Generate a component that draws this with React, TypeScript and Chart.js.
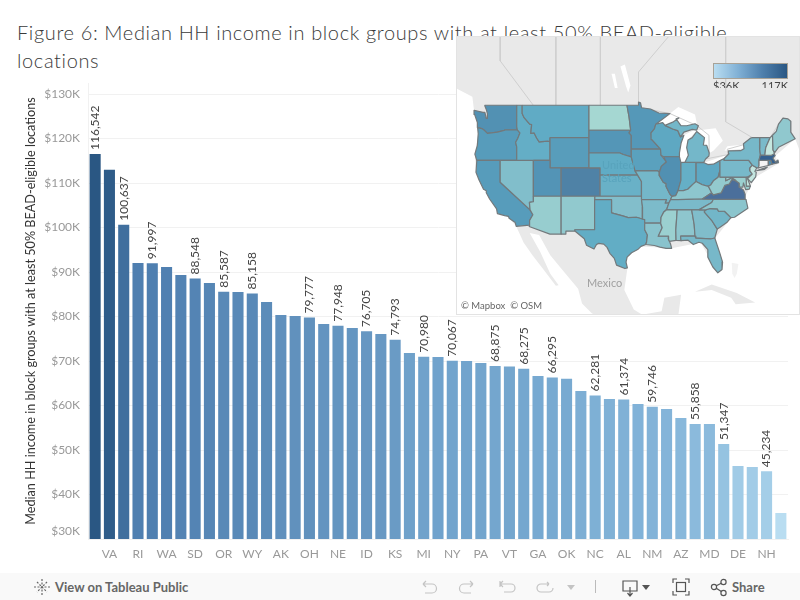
import React, { useEffect, useRef } from "react";
import { Chart, registerables } from "chart.js";

Chart.register(...registerables);

const TITLE_LINES = ["Figure 6: Median HH income in block groups with at least 50% BEAD-eligible", "locations"];
const Y_TITLE = "Median HH income in block groups with at least 50% BEAD-eligible locations";

const states = ["MA","VA","CO","RI","IL","WA","UT","SD","MN","OR","CA","WY","IA","AK","WI","OH","MT","NE","TX","ID","IN","KS","SC","MI","MO","NY","FL","PA","TN","VT","AR","GA","NV","OK","LA","NC","KY","AL","ME","NM","WV","AZ","MS","MD","ND","DE","NJ","NH","DC"];
const income = [116542,113000,100637,92050,91997,91120,89330,88548,87530,85587,85500,85158,83250,80340,80110,79777,78300,77948,77420,76705,76070,74793,71800,70980,70900,70067,70000,69550,68875,68800,68275,66630,66295,66000,63260,62281,61460,61374,60340,59746,59200,57190,55858,55840,51347,46400,46180,45234,35840];
const xLabelled = ["VA","RI","WA","SD","OR","WY","AK","OH","NE","ID","KS","MI","NY","PA","VT","GA","OK","NC","AL","NM","AZ","MD","DE","NH"];
const valueLabelled = [116542,100637,91997,88548,85587,85158,79777,77948,76705,74793,70980,70067,68875,68275,66295,62281,61374,59746,55858,51347,45234];
const yTicks = [30000,40000,50000,60000,70000,80000,90000,100000,110000,120000,130000];

const barStops: [number, string][] = [[35840,"#b9ddf1"],[45000,"#a5cee8"],[50000,"#98c5e2"],[60000,"#82b3d8"],[70000,"#72a4cd"],[80000,"#6191bd"],[92000,"#4f7fb0"],[100000,"#41709f"],[116542,"#2a5783"]];
const mapStops: [number, string][] = [[35840,"#d8efe8"],[46000,"#c4e6df"],[51000,"#a6d8d2"],[65000,"#85c0cc"],[78000,"#60acc5"],[90000,"#5293b5"],[100637,"#4f82a6"],[113000,"#4b6f9b"],[116542,"#35608f"]];

const W_NA = [-128,70,-128,51,-125,50,-124.7,48.4,-124.1,46.9,-124.05,46.27,-123.95,45.5,-124.55,42.84,-124.35,40.4,-122.5,37.6,-120.6,35.1,-118.4,33.75,-117.12,32.53,-115.8,30,-114.2,28,-112.5,26,-110,23,-109.5,23.1,-111,25,-112.8,28.5,-114.7,31.5,-113,31.2,-111,28,-109,25.8,-106,22.5,-105.3,20,-103.5,18.3,-95,15,-90,15,-88,18,-87.5,21.5,-90.5,21,-91,18.7,-94.5,18.1,-96,19,-97.7,22.3,-97.15,25.9,-97.2,27.7,-94.7,29.4,-89.2,29.1,-84,30,-82.7,28,-80.9,25.15,-80,26.9,-81.4,30.7,-78.5,33.8,-75.5,35.25,-76,37,-74.1,39.75,-70,41.6,-70.6,42.6,-67,44.85,-66.3,43.5,-60,46,-60,70];
const CUBA = [-85,22,-82,23.2,-77.5,21.8,-74.2,20.2,-77.7,19.9,-78.5,21,-82,22.3];
const BAHAMAS = [-78.4,26.8,-77.2,26.6,-77.5,25,-77.9,24.3,-78.3,25];
const lakes = [
  [-92,46.7,-89.5,48,-88,48.8,-85,47.9,-84.6,46.5,-86.5,46.5,-90.4,46.6],
  [-87.8,42,-87.6,45.1,-85,46,-84.8,45.8,-86.3,44.7,-86.2,42.5,-87,41.6],
  [-84.7,45.9,-81.3,46.2,-80,44.6,-81.7,43.3,-82.4,43,-83.5,44,-83.3,45],
  [-83.4,41.7,-79,42.8,-79.8,42.3,-81.7,41.5],
  [-79.7,43.3,-76.2,43.6,-76.2,44.1,-79.2,43.9],
  [-97,50.5,-96.6,51.3,-97.6,53.6,-98.4,53.4,-97.4,51.2],
  [-99.4,51,-98.9,51,-99.4,52.6,-100,52.6],
  [-112,59,-107,58.8,-104,59.4,-108,59.9],
];
const canadaLines = [
  [-120,60,-120,54,-114.05,49],
  [-110,60,-110,49],
  [-102,60,-102,49],
  [-95.15,49.38,-95.15,52.8,-89,57,-88,60],
  [-79.5,60,-79.5,47,-74.7,45],
  [-95.15,49.38,-94.6,48.7,-89.5,48,-84.6,46.5,-82.5,45.3,-82.45,43,-83.1,42.2,-79,42.8,-79.2,43.5,-76.2,44.1,-74.7,45,-71.5,45,-70,46.7,-69.2,47.45,-67.8,47.07,-67.8,45.7],
];

const shapes: Record<string, number[][]> = {
  WA: [[-122.8,49,-117.03,49,-117.04,46.42,-116.92,45.99,-118.98,46,-119.3,45.93,-120.5,45.7,-121.2,45.65,-122.3,45.55,-122.8,45.9,-123.3,46.15,-124.05,46.27,-124.1,46.9,-124.6,47.9,-124.7,48.4,-123.1,48.15,-122.75,48.15,-122.5,47.4,-122.3,47.4,-122.3,48,-122.5,48.5]],
  OR: [[-124.05,46.27,-123.3,46.15,-122.8,45.9,-122.3,45.55,-121.2,45.65,-120.5,45.7,-119.3,45.93,-118.98,46,-116.92,45.99,-116.46,45.6,-116.85,44.9,-117.22,44.4,-117.03,43.8,-117.03,42,-124.2,42,-124.55,42.84,-124.1,44,-123.95,45.5]],
  CA: [[-124.2,42,-120,42,-120,39,-114.63,35,-114.13,34.27,-114.72,33.4,-114.72,32.72,-117.12,32.53,-117.3,33.1,-118.4,33.75,-118.5,34.03,-119.2,34.15,-120.5,34.45,-120.65,35.15,-121.9,36.6,-122.5,37.5,-122.5,37.8,-123,38,-123.8,39.3,-124.35,40.4]],
  NV: [[-120,42,-114.04,42,-114.04,36.2,-114.75,36.1,-114.63,35,-120,39]],
  ID: [[-117.03,49,-116.05,49,-116.05,48,-115.7,47.5,-114.7,46.7,-114.35,46.65,-114.5,45.55,-113.9,45.6,-113.45,44.95,-113,44.45,-111.5,44.55,-111.05,44.48,-111.05,42,-117.03,42,-117.03,43.8,-117.22,44.4,-116.85,44.9,-116.46,45.6,-116.92,45.99,-117.04,46.42]],
  MT: [[-116.05,49,-104.05,49,-104.05,45,-111.05,45,-111.05,44.48,-111.5,44.55,-113,44.45,-113.45,44.95,-113.9,45.6,-114.5,45.55,-114.35,46.65,-114.7,46.7,-115.7,47.5,-116.05,48]],
  WY: [[-111.05,45,-104.05,45,-104.05,41,-111.05,41]],
  UT: [[-114.04,42,-111.05,42,-111.05,41,-109.05,41,-109.05,37,-114.04,37]],
  CO: [[-109.05,41,-102.05,41,-102.05,37,-109.05,37]],
  AZ: [[-114.75,36.1,-114.04,36.2,-114.04,37,-109.05,37,-109.05,31.33,-111.07,31.33,-114.8,32.5,-114.72,32.72,-114.72,33.4,-114.13,34.27,-114.63,35]],
  NM: [[-109.05,37,-103,37,-103,32,-106.62,32,-106.53,31.78,-108.2,31.78,-108.2,31.33,-109.05,31.33]],
  ND: [[-104.05,49,-97.23,49,-96.85,47.6,-96.56,45.94,-104.05,45.94]],
  SD: [[-104.05,45.94,-96.56,45.94,-96.85,45.6,-96.45,45.3,-96.45,43.5,-96.45,42.49,-97.9,42.8,-98.5,43,-104.05,43]],
  NE: [[-104.05,43,-98.5,43,-97.9,42.8,-96.45,42.49,-96.1,41.5,-95.77,40.58,-95.31,40,-102.05,40,-102.05,41,-104.05,41]],
  KS: [[-102.05,40,-95.31,40,-94.62,39.1,-94.62,37,-102.05,37]],
  OK: [[-103,37,-94.62,37,-94.43,35.4,-94.48,33.64,-95.5,33.9,-97,33.85,-98,34.1,-100,34.56,-100,36.5,-103,36.5]],
  TX: [[-106.62,32,-103.06,32,-103.04,36.5,-100,36.5,-100,34.56,-98,34.1,-97,33.85,-95.5,33.9,-94.48,33.64,-94.04,33.55,-94.04,31.99,-93.55,31.2,-93.7,30.1,-93.85,29.7,-94.7,29.4,-95.3,28.9,-96.4,28.4,-97.2,27.7,-97.4,26.9,-97.15,25.96,-97.6,25.85,-99.1,26.4,-99.5,27.5,-100.3,28.3,-100.8,29.25,-101.4,29.77,-102.3,29.88,-102.7,29.7,-103.15,28.98,-104.5,29.6,-104.9,30.6,-106.53,31.78]],
  MN: [[-97.23,49,-95.15,49,-95.15,49.38,-94.8,49.3,-94.6,48.7,-93,48.55,-91.5,48.07,-89.5,48,-92.05,46.7,-92.3,46.1,-92.9,45.6,-92.75,44.75,-91.2,43.5,-96.45,43.5,-96.45,45.3,-96.85,45.6,-96.56,45.94,-96.85,47.6]],
  IA: [[-96.45,43.5,-91.2,43.5,-91.1,42.7,-90.15,41.8,-91.05,41.2,-91.4,40.4,-91.73,40.61,-95.77,40.58,-96.1,41.5,-96.45,42.49]],
  MO: [[-95.77,40.58,-91.73,40.61,-91.4,40.4,-91.45,40,-90.7,39,-90.2,38.8,-90.2,38.4,-89.5,37.3,-89.15,36.98,-89.4,36.5,-89.7,36,-90.37,36,-90.15,36.5,-94.62,36.5,-94.62,39.1,-95.31,40]],
  AR: [[-94.62,36.5,-90.15,36.5,-90.37,36,-89.7,36,-90.1,35.1,-90.6,34.7,-91.1,33.9,-91.17,33,-94.04,33,-94.04,33.55,-94.48,33.64,-94.43,35.4]],
  LA: [[-94.04,33,-91.17,33,-90.9,32.3,-91.6,31,-89.75,31,-89.8,30.6,-89.6,30.2,-89.4,29.8,-89.2,29.1,-90.2,29.1,-91.3,29.3,-92.3,29.55,-93.85,29.7,-93.7,30.1,-93.55,31.2,-94.04,31.99]],
  WI: [[-92.05,46.7,-90.8,46.9,-90.4,46.55,-89,46.1,-88.1,45.9,-87.8,45.35,-87.6,45.1,-87,45.3,-87.5,44.3,-87.8,43,-87.8,42.5,-90.65,42.5,-91.1,42.7,-91.2,43.5,-92.75,44.75,-92.9,45.6,-92.3,46.1]],
  IL: [[-90.65,42.5,-87.8,42.5,-87.53,41.7,-87.53,39.3,-88.05,37.8,-88.45,37.1,-89.15,36.98,-89.5,37.3,-90.2,38.4,-90.2,38.8,-90.7,39,-91.45,40,-91.4,40.4,-91.05,41.2,-90.15,41.8]],
  IN: [[-87.53,41.7,-87.2,41.75,-84.8,41.76,-84.82,39.1,-85.4,38.7,-86.3,38,-87.1,37.8,-88.05,37.8,-87.53,39.3]],
  OH: [[-84.8,41.7,-83.45,41.73,-82.7,41.45,-81.7,41.5,-80.52,41.98,-80.52,40.64,-80.85,39.7,-81.7,39.2,-82.2,38.6,-82.6,38.42,-83.7,38.65,-84.82,39.1]],
  MI: [[-86.8,41.76,-84.8,41.76,-83.45,41.73,-83.1,42.2,-82.5,42.6,-82.45,43,-82.9,44,-83.5,44.05,-83.3,45,-84.7,45.78,-85.5,45,-86.25,44.7,-86.5,43.7,-86.2,42.7],[-90.4,46.55,-89,46.1,-88.1,45.9,-87.6,45.1,-87,45.7,-85.5,46.05,-84.7,45.95,-84.4,46.5,-85,46.75,-86.5,46.5,-87.5,46.5,-88.4,47.35,-87.9,47.47,-89,46.95]],
  KY: [[-89.4,36.5,-88.05,36.5,-83.68,36.6,-82,37.5,-82.6,38.42,-83.7,38.65,-84.82,39.1,-85.4,38.7,-86.3,38,-87.1,37.8,-88.05,37.8,-88.45,37.1,-89.15,36.98]],
  TN: [[-90.1,35,-89.7,36,-89.4,36.5,-88.05,36.5,-83.68,36.6,-81.68,36.59,-82,36.1,-84.3,35]],
  MS: [[-91.17,33,-91.1,33.9,-90.6,34.7,-90.1,35,-88.2,35,-88.45,31.9,-88.4,30.35,-89.6,30.2,-89.8,30.6,-89.75,31,-91.6,31,-90.9,32.3]],
  AL: [[-88.2,35,-85.6,35,-85.15,32.8,-85,31,-87.6,31,-87.5,30.3,-88.4,30.35,-88.45,31.9]],
  GA: [[-85.6,35,-83.1,35,-83.35,34.7,-81.9,33.3,-81,32.1,-81.45,30.72,-82.2,30.57,-84.85,30.7,-85,31,-85.15,32.8]],
  FL: [[-87.6,31,-85,31,-84.85,30.7,-82.2,30.57,-81.45,30.72,-80.6,28.5,-80.05,26.9,-80.15,25.7,-80.9,25.15,-81.8,26.1,-82.7,27.7,-82.7,28.9,-83.7,29.9,-84.3,30.05,-85.3,29.7,-86.3,30.4,-87.5,30.3]],
  SC: [[-83.35,34.7,-83.1,35,-82.3,35.2,-81,35.15,-80.8,34.82,-79.7,34.8,-78.55,33.85,-79.3,33.1,-80.5,32.4,-81,32.1,-81.9,33.3]],
  NC: [[-84.3,35,-82,36.1,-81.68,36.59,-75.85,36.55,-75.5,35.25,-76.5,34.7,-77.9,33.9,-78.55,33.85,-79.7,34.8,-80.8,34.82,-81,35.15,-82.3,35.2,-83.1,35]],
  VA: [[-83.68,36.6,-75.9,36.55,-76,37.3,-76.3,37.9,-77,38.3,-77.05,38.85,-77.5,39.1,-78.35,39.4,-78.85,38.75,-79.65,38.55,-80.3,37.5,-81.7,37.2,-82,37.5]],
  WV: [[-82.6,38.42,-82,37.5,-81.7,37.2,-80.3,37.5,-79.65,38.55,-78.85,38.75,-78.35,39.4,-77.75,39.32,-78.4,39.62,-79.48,39.2,-79.48,39.72,-80.52,39.72,-80.52,40.64,-80.85,39.7,-81.7,39.2,-82.2,38.6]],
  MD: [[-79.48,39.72,-75.79,39.72,-75.7,38.46,-75.05,38.45,-75.25,38.03,-75.9,37.95,-76.3,38.9,-76.4,38.3,-77,38.3,-77.05,38.85,-77.5,39.1,-77.75,39.32,-78.4,39.62,-79.48,39.2]],
  DE: [[-75.79,39.72,-75.4,39.8,-75.55,39.5,-75.05,38.45,-75.7,38.46]],
  PA: [[-80.52,41.98,-79.76,42.27,-79.76,42,-75.35,42,-74.7,41.36,-75.13,40.98,-75.2,40.65,-74.72,40.15,-75.4,39.8,-75.79,39.72,-80.52,39.72]],
  NJ: [[-74.7,41.36,-73.9,41,-74.25,40.5,-74,40.4,-74.1,39.75,-74.9,38.95,-75.55,39.5,-74.72,40.15,-75.2,40.65,-75.13,40.98]],
  NY: [[-79.76,42.27,-78.9,42.9,-79,43.27,-76.8,43.3,-76.2,43.55,-76.3,44.2,-75,44.95,-74.7,45,-73.35,45,-73.4,43.6,-73.25,42.75,-73.5,42.05,-73.5,41.3,-73.65,41,-73.9,41,-74.7,41.36,-75.35,42,-79.76,42],[-74,40.6,-72,41.1,-72.5,40.8]],
  CT: [[-73.5,42.05,-71.8,42.02,-71.85,41.32,-73.65,41,-73.5,41.3]],
  RI: [[-71.8,42.02,-71.38,42.02,-71.15,41.5,-71.85,41.32]],
  MA: [[-73.5,42.05,-73.25,42.75,-71.3,42.7,-70.8,42.87,-70.6,42.65,-71,42.3,-70.55,41.8,-70.1,42.05,-70,41.7,-70.6,41.6,-71.15,41.5,-71.38,42.02]],
  VT: [[-73.35,45,-71.5,45.01,-72.05,44.1,-72.3,43.7,-72.45,42.73,-73.25,42.75,-73.4,43.6]],
  NH: [[-71.5,45.01,-71.08,45.3,-70.98,43.4,-70.7,43.05,-70.8,42.87,-71.3,42.7,-72.45,42.73,-72.3,43.7,-72.05,44.1]],
  ME: [[-71.08,45.3,-70.4,45.8,-70,46.7,-69.2,47.45,-68.3,47.35,-67.8,47.07,-67.8,45.7,-67,44.85,-68.5,44.3,-70,43.75,-70.7,43.05,-70.98,43.4]],
};

const UI_FONT = "Lato, 'Open Sans', sans-serif";

function hex(c: string) {
  return [1, 3, 5].map((i) => parseInt(c.slice(i, i + 2), 16));
}
function ramp(stops: [number, string][], v: number) {
  for (let i = 1; i < stops.length; i++) {
    if (v <= stops[i][0]) {
      const [a, ca] = stops[i - 1];
      const [b, cb] = stops[i];
      const t = Math.max(0, (v - a) / (b - a));
      const A = hex(ca), B = hex(cb);
      return `rgb(${A.map((x, k) => Math.round(x + (B[k] - x) * t)).join(",")})`;
    }
  }
  return stops[stops.length - 1][1];
}
const merc = (lat: number) => Math.log(Math.tan(Math.PI / 4 + (lat * Math.PI) / 360));
function toPoints(flat: number[], close = true) {
  const pts: { x: number; y: number }[] = [];
  for (let i = 0; i < flat.length; i += 2) pts.push({ x: flat[i], y: merc(flat[i + 1]) });
  if (close) pts.push({ ...pts[0] });
  return pts;
}

const valueLabelPlugin = {
  id: "valueLabels",
  afterDatasetsDraw(chart: any) {
    const ctx = chart.ctx;
    const meta = chart.getDatasetMeta(0);
    ctx.save();
    ctx.font = `12px ${UI_FONT}`;
    ctx.fillStyle = "#444";
    ctx.textAlign = "left";
    ctx.textBaseline = "middle";
    income.forEach((v, i) => {
      if (!valueLabelled.includes(v)) return;
      const el = meta.data[i];
      ctx.save();
      ctx.translate(el.x, el.y - 4);
      ctx.rotate(-Math.PI / 2);
      ctx.fillText(v.toLocaleString("en-US"), 0, 0);
      ctx.restore();
    });
    ctx.restore();
  },
};

const shiftBottomTick = {
  id: "shiftBottomTick",
  beforeDraw(chart: any) {
    const item = chart.scales.y.getLabelItems().find((it: any) => it.label === "$30K");
    if (item && !item.shifted) {
      item.options.translation[1] -= 8;
      item.shifted = true;
    }
  },
};

function Icon({ x, children, w = 20 }: { x: number; children: React.ReactNode; w?: number }) {
  return (
    <svg width={w} height={22} viewBox={`0 0 ${w} 22`} style={{ position: "absolute", left: x, top: 3 }} fill="none">
      {children}
    </svg>
  );
}

export default function App() {
  const barRef = useRef<HTMLCanvasElement>(null);
  const mapRef = useRef<HTMLCanvasElement>(null);

  useEffect(() => {
    document.body.style.margin = "0";
    const grid = "#f1f1f1";
    const barChart = new Chart(barRef.current!, {
      type: "bar",
      data: {
        labels: states,
        datasets: [
          {
            data: income,
            backgroundColor: income.map((v) => ramp(barStops, v)),
            categoryPercentage: 1,
            barPercentage: 0.775,
          },
        ],
      },
      options: {
        responsive: false,
        animation: false,
        layout: { padding: { top: 83, right: 12, left: 0, bottom: 0 } },
        plugins: { legend: { display: false }, tooltip: { enabled: false }, title: { display: false } },
        scales: {
          x: {
            grid: { display: false },
            border: { color: grid },
            ticks: {
              autoSkip: false,
              maxRotation: 0,
              minRotation: 0,
              color: "#999",
              padding: 0,
              font: { family: UI_FONT, size: 12 },
              callback(_: any, i: number) {
                const s = states[i];
                return xLabelled.includes(s) ? s : "";
              },
            },
            afterFit(s: any) {
              s.height = 34;
            },
          },
          y: {
            min: 30000,
            max: 132500,
            grid: { color: grid, drawTicks: false },
            border: { color: grid },
            afterBuildTicks(s: any) {
              s.ticks = yTicks.map((value) => ({ value }));
            },
            ticks: {
              color: "#999",
              padding: 8,
              font: { family: UI_FONT, size: 12 },
              callback: (v: any) => `$${Number(v) / 1000}K`,
            },
            title: {
              display: true,
              text: Y_TITLE,
              color: "#333",
              font: { family: UI_FONT, size: 12.65 },
              padding: { top: 23, bottom: 0 },
            },
            afterFit(s: any) {
              s.width = 88;
            },
          },
        },
      } as any,
      plugins: [valueLabelPlugin, shiftBottomTick],
    });

    const poly = (flat: number[], fillColor: string, line = false) => ({
      data: toPoints(flat),
      showLine: true,
      pointRadius: 0,
      fill: "shape",
      backgroundColor: fillColor,
      borderColor: line ? "#72797c" : fillColor,
      borderWidth: line ? 1.2 : 0,
      borderJoinStyle: "round",
    });
    const land = "#e9e9e9";
    const sets: any[] = [
      poly(W_NA, land),
      poly(CUBA, land),
      poly(BAHAMAS, "#f2f2f2"),
      ...lakes.map((l) => poly(l, "#ffffff")),
      ...canadaLines.map((l) => ({
        data: toPoints(l, false),
        showLine: true,
        pointRadius: 0,
        fill: false,
        borderColor: "#cfcfcf",
        borderWidth: 1,
      })),
    ];
    Object.keys(shapes).forEach((s) => {
      const idx = states.indexOf(s);
      const color = idx >= 0 ? ramp(mapStops, income[idx]) : "#f4f4f4";
      shapes[s].forEach((p) => sets.push(poly(p, color, true)));
    });
    sets.forEach((d, i) => (d.order = sets.length - i));
    const mapChart = new Chart(mapRef.current!, {
      type: "scatter",
      data: { datasets: sets },
      options: {
        responsive: false,
        animation: false,
        layout: { padding: 0 },
        plugins: { legend: { display: false }, tooltip: { enabled: false } },
        scales: {
          x: { type: "linear", min: -127.76, max: -66.32, display: false },
          y: { type: "linear", min: 0.3235, max: 1.1997, display: false },
        },
      } as any,
    });
    return () => {
      barChart.destroy();
      mapChart.destroy();
    };
  }, []);

  return (
    <div style={{ position: "absolute", left: 0, top: 0, width: 800, height: 600, overflow: "hidden", background: "#fff", fontFamily: UI_FONT }}>
      <div style={{ position: "absolute", left: 17, top: 19, fontSize: 20, fontWeight: 300, color: "#3a3a3a", lineHeight: "27.5px", whiteSpace: "nowrap", letterSpacing: 0.63 }}>
        {TITLE_LINES.map((t) => (
          <div key={t}>{t}</div>
        ))}
      </div>
      <canvas ref={barRef} width={800} height={573} style={{ position: "absolute", left: 0, top: 0 }} />
      <div style={{ position: "absolute", left: 456, top: 36, width: 342, height: 277, border: "1px solid #e3e3e3", background: "#fff", overflow: "hidden" }}>
        <canvas ref={mapRef} width={342} height={277} style={{ position: "absolute", left: 0, top: 0 }} />
        <div style={{ position: "absolute", left: 145, top: 121, fontSize: 11, lineHeight: "13px", color: "#58a3bc", textAlign: "left" }}>United<br />States</div>
        <div style={{ position: "absolute", left: 130, top: 239, fontSize: 11, color: "#a0a0a0" }}>Mexico</div>
        <div style={{ position: "absolute", left: 2, top: 261, height: 15, width: 83, background: "rgba(255,255,255,0.7)", fontSize: 9.5, lineHeight: "15px", color: "#666", paddingLeft: 2, whiteSpace: "nowrap" }}>© Mapbox&nbsp; © OSM</div>
        <div style={{ position: "absolute", left: 256, top: 26, width: 73, height: 14, border: "1px solid #a8a297", background: "linear-gradient(to right,#b9ddf1,#80b0d5,#4e7fac,#2a5783)" }} />
        <div style={{ position: "absolute", left: 256, top: 42, width: 75, height: 9, overflow: "hidden", fontSize: 11, color: "#444", lineHeight: "14px", display: "flex", justifyContent: "space-between" }}>
          <span>$36K</span>
          <span>117K</span>
        </div>
      </div>
      <div style={{ position: "absolute", left: 0, top: 573, width: 800, height: 27, background: "#f9f9f9", color: "#666" }}>
        <Icon x={33}>
          <g stroke="#666" strokeWidth="1.2">
            <path d="M9 3v16M1 11h16M4 6l10 10M14 6L4 16" strokeDasharray="2 1.5" />
          </g>
        </Icon>
        <div style={{ position: "absolute", left: 55, top: 6, fontSize: 13, fontWeight: 700, fontFamily: "Lato", color: "#666", whiteSpace: "nowrap" }}>View on Tableau Public</div>
        <Icon x={418}><path d="M5 8h9a4 4 0 0 1 0 9H7M5 8l3-3M5 8l3 3" stroke="#c4c4c4" strokeWidth="1.2" /></Icon>
        <Icon x={458}><path d="M15 8H6a4 4 0 0 0 0 9h7M15 8l-3-3M15 8l-3 3" stroke="#c4c4c4" strokeWidth="1.2" /></Icon>
        <Icon x={497}><path d="M3 5v6M3 8h11a3.5 3.5 0 0 1 0 8H7M3 8l3-3M3 8l3 3" stroke="#c4c4c4" strokeWidth="1.2" /></Icon>
        <Icon x={535}><path d="M14 8H6a4 4 0 0 0 0 8h8a4 4 0 0 0 4-4M14 8l-2-2M14 8l-2 2" stroke="#c4c4c4" strokeWidth="1.2" /></Icon>
        <Icon x={565} w={12}><path d="M2 9h8l-4 5z" fill="#c4c4c4" /></Icon>
        <div style={{ position: "absolute", left: 595, top: 7, width: 1, height: 13, background: "#bbb" }} />
        <Icon x={621} w={18}><path d="M2 5h14v10h-5l-2 0-2 0H2zM9 11v8M6.5 17L9 20l2.5-3" stroke="#555" strokeWidth="1.2" /></Icon>
        <Icon x={640} w={12}><path d="M2 9h8l-4 5z" fill="#555" /></Icon>
        <Icon x={672} w={18}><path d="M1 7V3h4M13 3h4v4M17 15v4h-4M5 19H1v-4" stroke="#555" strokeWidth="1.2" /><rect x="4.5" y="6.5" width="9" height="9" stroke="#555" strokeWidth="1.2" /></Icon>
        <Icon x={710} w={18}>
          <g stroke="#555" strokeWidth="1.2">
            <circle cx="4" cy="11" r="2.6" /><circle cx="13.5" cy="6" r="2.6" /><circle cx="13.5" cy="17" r="2.6" />
            <path d="M6.3 9.8l5-2.6M6.3 12.2l5 3.4" />
          </g>
        </Icon>
        <div style={{ position: "absolute", left: 732, top: 6, fontSize: 13, fontWeight: 700, fontFamily: "Lato", color: "#666" }}>Share</div>
      </div>
    </div>
  );
}
